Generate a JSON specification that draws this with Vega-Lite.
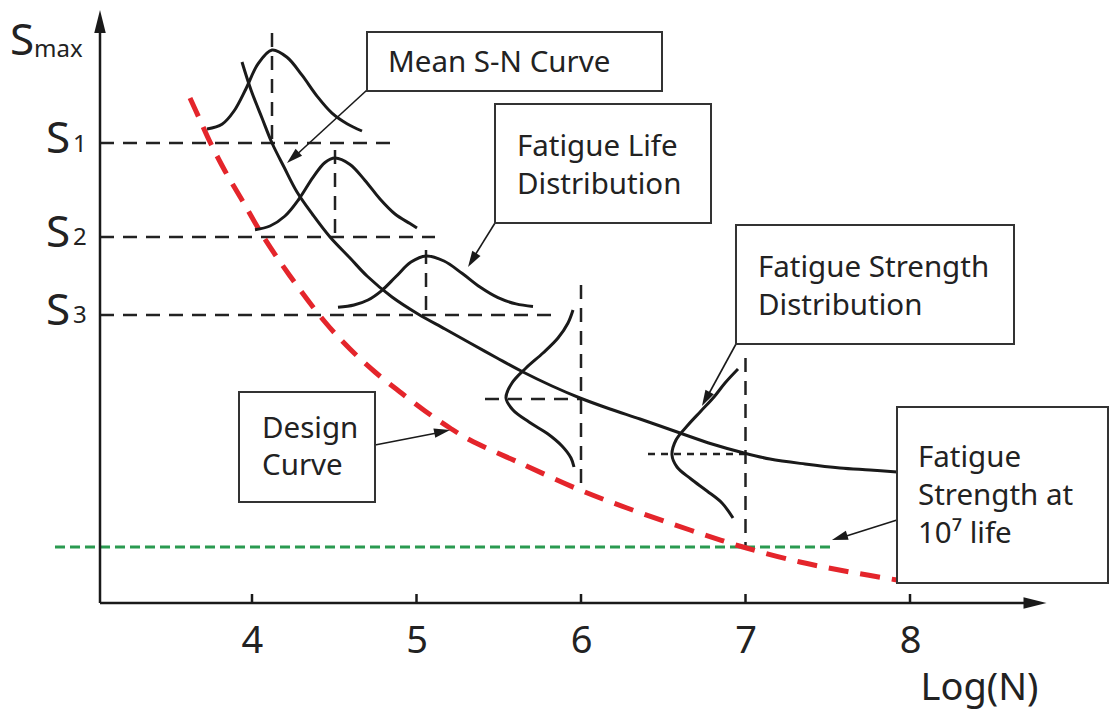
{
  "$schema": "https://vega.github.io/schema/vega-lite/v6.json",
  "width": 1109,
  "height": 713,
  "autosize": {"type": "none"},
  "padding": 0,
  "background": "white",
  "config": {"view": {"stroke": null}},
  "datasets": {
    "dash": [
      {"n": 3.076, "n2": 4.8693, "s": 460, "s2": 460},
      {"n": 3.076, "n2": 5.1125, "s": 366, "s2": 366},
      {"n": 3.076, "n2": 5.8541, "s": 288, "s2": 288},
      {"n": 4.1216, "n2": 4.1216, "s": 570, "s2": 460},
      {"n": 4.5046, "n2": 4.5046, "s": 453, "s2": 366},
      {"n": 5.0578, "n2": 5.0578, "s": 353, "s2": 288},
      {"n": 6, "n2": 6, "s": 318, "s2": 113},
      {"n": 7, "n2": 7, "s": 245, "s2": 56},
      {"n": 5.4164, "n2": 6, "s": 204, "s2": 204}
    ],
    "fine": [{"n": 6.4073, "n2": 7, "s": 149, "s2": 149}],
    "green": [{"n": 2.8024, "n2": 7.5137, "s": 56, "s2": 56}],
    "design": [
      {"i": 0, "n": 3.6231, "s": 505}, {"i": 1, "n": 3.6839, "s": 483}, {"i": 2, "n": 3.7447, "s": 461},
      {"i": 3, "n": 3.8359, "s": 432}, {"i": 4, "n": 3.9392, "s": 403}, {"i": 5, "n": 4.0669, "s": 367},
      {"i": 6, "n": 4.231, "s": 327}, {"i": 7, "n": 4.4438, "s": 281}, {"i": 8, "n": 4.5958, "s": 254},
      {"i": 9, "n": 4.7477, "s": 231}, {"i": 10, "n": 4.8997, "s": 211}, {"i": 11, "n": 5.0517, "s": 192},
      {"i": 12, "n": 5.2036, "s": 175}, {"i": 13, "n": 5.3252, "s": 163}, {"i": 14, "n": 5.6292, "s": 140},
      {"i": 15, "n": 5.9939, "s": 113}, {"i": 16, "n": 6.2796, "s": 95}, {"i": 17, "n": 6.6626, "s": 73},
      {"i": 18, "n": 6.9848, "s": 56}, {"i": 19, "n": 7.3313, "s": 41}, {"i": 20, "n": 7.6353, "s": 31},
      {"i": 21, "n": 7.921, "s": 23}
    ],
    "curves": [
      {"id": "sn", "i": 0, "n": 3.9392, "s": 541}, {"id": "sn", "i": 1, "n": 3.9939, "s": 513},
      {"id": "sn", "i": 2, "n": 4.0608, "s": 485}, {"id": "sn", "i": 3, "n": 4.1216, "s": 460},
      {"id": "sn", "i": 4, "n": 4.1945, "s": 436}, {"id": "sn", "i": 5, "n": 4.2736, "s": 411},
      {"id": "sn", "i": 6, "n": 4.3708, "s": 388}, {"id": "sn", "i": 7, "n": 4.4742, "s": 366},
      {"id": "sn", "i": 8, "n": 4.5958, "s": 345}, {"id": "sn", "i": 9, "n": 4.6991, "s": 327},
      {"id": "sn", "i": 10, "n": 4.8511, "s": 306}, {"id": "sn", "i": 11, "n": 5.0091, "s": 289},
      {"id": "sn", "i": 12, "n": 5.1733, "s": 274}, {"id": "sn", "i": 13, "n": 5.3252, "s": 260},
      {"id": "sn", "i": 14, "n": 5.4894, "s": 245}, {"id": "sn", "i": 15, "n": 5.6474, "s": 231},
      {"id": "sn", "i": 16, "n": 5.8237, "s": 217}, {"id": "sn", "i": 17, "n": 5.9939, "s": 205},
      {"id": "sn", "i": 18, "n": 6.1763, "s": 194}, {"id": "sn", "i": 19, "n": 6.3587, "s": 184},
      {"id": "sn", "i": 20, "n": 6.6018, "s": 170}, {"id": "sn", "i": 21, "n": 6.7964, "s": 159},
      {"id": "sn", "i": 22, "n": 6.9909, "s": 150}, {"id": "sn", "i": 23, "n": 7.1489, "s": 144},
      {"id": "sn", "i": 24, "n": 7.3617, "s": 139}, {"id": "sn", "i": 25, "n": 7.5745, "s": 135},
      {"id": "sn", "i": 26, "n": 7.7568, "s": 133}, {"id": "sn", "i": 27, "n": 7.921, "s": 131},

      {"id": "b1", "i": 0, "n": 3.7265, "s": 474}, {"id": "b1", "i": 1, "n": 3.8176, "s": 478.7},
      {"id": "b1", "i": 2, "n": 3.8906, "s": 492}, {"id": "b1", "i": 3, "n": 3.9635, "s": 514.3},
      {"id": "b1", "i": 4, "n": 4.0365, "s": 539.1}, {"id": "b1", "i": 5, "n": 4.1216, "s": 553},
      {"id": "b1", "i": 6, "n": 4.2128, "s": 545.8}, {"id": "b1", "i": 7, "n": 4.304, "s": 527.8},
      {"id": "b1", "i": 8, "n": 4.3951, "s": 506.9}, {"id": "b1", "i": 9, "n": 4.4863, "s": 489.9},
      {"id": "b1", "i": 10, "n": 4.5775, "s": 479.3}, {"id": "b1", "i": 11, "n": 4.6687, "s": 472},

      {"id": "b2", "i": 0, "n": 4.0182, "s": 373.2}, {"id": "b2", "i": 1, "n": 4.1094, "s": 377},
      {"id": "b2", "i": 2, "n": 4.2006, "s": 387}, {"id": "b2", "i": 3, "n": 4.2857, "s": 404},
      {"id": "b2", "i": 4, "n": 4.3708, "s": 425.6}, {"id": "b2", "i": 5, "n": 4.4438, "s": 440.5},
      {"id": "b2", "i": 6, "n": 4.5046, "s": 445}, {"id": "b2", "i": 7, "n": 4.5958, "s": 438.6},
      {"id": "b2", "i": 8, "n": 4.6869, "s": 422.6}, {"id": "b2", "i": 9, "n": 4.7781, "s": 404},
      {"id": "b2", "i": 10, "n": 4.8693, "s": 389}, {"id": "b2", "i": 11, "n": 4.9605, "s": 379.4},
      {"id": "b2", "i": 12, "n": 5.003, "s": 375},

      {"id": "b3", "i": 0, "n": 4.5228, "s": 295.7}, {"id": "b3", "i": 1, "n": 4.6201, "s": 298},
      {"id": "b3", "i": 2, "n": 4.7052, "s": 303}, {"id": "b3", "i": 3, "n": 4.7903, "s": 312.7},
      {"id": "b3", "i": 4, "n": 4.8754, "s": 326.5}, {"id": "b3", "i": 5, "n": 4.9666, "s": 340.9},
      {"id": "b3", "i": 6, "n": 5.0578, "s": 347}, {"id": "b3", "i": 7, "n": 5.1672, "s": 342},
      {"id": "b3", "i": 8, "n": 5.2766, "s": 329.7}, {"id": "b3", "i": 9, "n": 5.386, "s": 315.9},
      {"id": "b3", "i": 10, "n": 5.4954, "s": 305.3}, {"id": "b3", "i": 11, "n": 5.6049, "s": 299.1},
      {"id": "b3", "i": 12, "n": 5.7082, "s": 296.5},

      {"id": "f6", "i": 0, "n": 5.9514, "s": 293}, {"id": "f6", "i": 1, "n": 5.921, "s": 280},
      {"id": "f6", "i": 2, "n": 5.8602, "s": 265}, {"id": "f6", "i": 3, "n": 5.769, "s": 250},
      {"id": "f6", "i": 4, "n": 5.6657, "s": 235}, {"id": "f6", "i": 5, "n": 5.5805, "s": 220},
      {"id": "f6", "i": 6, "n": 5.5441, "s": 205}, {"id": "f6", "i": 7, "n": 5.5866, "s": 193},
      {"id": "f6", "i": 8, "n": 5.6839, "s": 181}, {"id": "f6", "i": 9, "n": 5.7994, "s": 169},
      {"id": "f6", "i": 10, "n": 5.8845, "s": 157}, {"id": "f6", "i": 11, "n": 5.9392, "s": 145},
      {"id": "f6", "i": 12, "n": 5.9574, "s": 136},

      {"id": "f7", "i": 0, "n": 6.9544, "s": 234}, {"id": "f7", "i": 1, "n": 6.8754, "s": 220},
      {"id": "f7", "i": 2, "n": 6.8085, "s": 206}, {"id": "f7", "i": 3, "n": 6.7295, "s": 192},
      {"id": "f7", "i": 4, "n": 6.6505, "s": 178}, {"id": "f7", "i": 5, "n": 6.5775, "s": 163},
      {"id": "f7", "i": 6, "n": 6.5532, "s": 148}, {"id": "f7", "i": 7, "n": 6.5836, "s": 136},
      {"id": "f7", "i": 8, "n": 6.6687, "s": 124}, {"id": "f7", "i": 9, "n": 6.766, "s": 112},
      {"id": "f7", "i": 10, "n": 6.8571, "s": 100}, {"id": "f7", "i": 11, "n": 6.924, "s": 85}
    ],
    "axes": [
      {"n": 3.076, "n2": 3.076, "s": 0, "s2": 575},
      {"n": 3.076, "n2": 8.7, "s": 0, "s2": 0},
      {"n": 4, "n2": 4, "s": 0, "s2": 9},
      {"n": 5, "n2": 5, "s": 0, "s2": 9},
      {"n": 6, "n2": 6, "s": 0, "s2": 9},
      {"n": 7, "n2": 7, "s": 0, "s2": 9},
      {"n": 8, "n2": 8, "s": 0, "s2": 9}
    ],
    "shafts": [
      {"n": 4.6991, "n2": 4.2492, "s": 513, "s2": 445},
      {"n": 5.4772, "n2": 5.3374, "s": 380, "s2": 343},
      {"n": 6.9422, "n2": 6.7599, "s": 259, "s2": 204},
      {"n": 4.7477, "n2": 5.155, "s": 158, "s2": 171},
      {"n": 7.921, "n2": 7.5745, "s": 83, "s2": 65}
    ],
    "heads": [
      {"n": 4.2487, "s": 445.4, "ang": 227.6},
      {"n": 5.3386, "s": 342.8, "ang": 211.5},
      {"n": 6.7587, "s": 204, "ang": 208.7},
      {"n": 5.1562, "s": 171.4, "ang": 78.7},
      {"n": 7.572, "s": 65.4, "ang": 253}
    ],
    "axheads": [
      {"n": 3.076, "s": 581.5, "ang": 0},
      {"n": 8.7599, "s": 0, "ang": 90}
    ],
    "boxes": [
      {"n": 4.6991, "n2": 6.4924, "s": 571, "s2": 512},
      {"n": 5.4772, "n2": 6.7903, "s": 499, "s2": 380},
      {"n": 6.9422, "n2": 8.6322, "s": 378, "s2": 259},
      {"n": 3.921, "n2": 4.7477, "s": 211, "s2": 101},
      {"n": 7.921, "n2": 9.2036, "s": 196, "s2": 20}
    ],
    "boxtext": [
      {"t": "Mean S-N Curve", "n": 4.8268, "s": 531},
      {"t": "Fatigue Life", "n": 5.6109, "s": 447},
      {"t": "Distribution", "n": 5.6109, "s": 409},
      {"t": "Fatigue Strength", "n": 7.076, "s": 326},
      {"t": "Distribution", "n": 7.076, "s": 288},
      {"t": "Fatigue", "n": 8.0486, "s": 136},
      {"t": "Strength at", "n": 8.0486, "s": 98},
      {"t": "10⁷ life", "n": 8.0486, "s": 60},
      {"t": "Design", "n": 4.0608, "s": 165},
      {"t": "Curve", "n": 4.0608, "s": 128}
    ],
    "bigS": [
      {"t": "S", "n": 2.5289, "s": 548},
      {"t": "S", "n": 2.7477, "s": 450},
      {"t": "S", "n": 2.7477, "s": 356},
      {"t": "S", "n": 2.7477, "s": 278}
    ],
    "sub": [
      {"t": "max", "n": 2.6748, "s": 546},
      {"t": "1", "n": 2.9119, "s": 451},
      {"t": "2", "n": 2.9119, "s": 358},
      {"t": "3", "n": 2.9119, "s": 280}
    ]
  },
  "encoding": {
    "x": {
      "field": "n", "type": "quantitative",
      "scale": {"domain": [2.4681, 9.2097], "nice": false, "zero": false},
      "axis": {
        "values": [4, 5, 6, 7, 8], "grid": false, "domain": false, "ticks": false, "tickSize": 0,
        "offset": -110, "labelFont": "Noto Sans", "labelFontSize": 38, "labelColor": "#222",
        "labelBaseline": "alphabetic", "labelPadding": 49, "labelFlush": false, "labelOverlap": false,
        "title": "Log(N)", "titleFont": "Noto Sans", "titleFontSize": 38, "titleFontWeight": "normal",
        "titleColor": "#222", "titleX": 920, "titleY": 96, "titleAlign": "left", "titleBaseline": "alphabetic"
      }
    },
    "y": {
      "field": "s", "type": "quantitative",
      "scale": {"domain": [-110, 603], "nice": false, "zero": false},
      "axis": null
    }
  },
  "layer": [
    {
      "data": {"name": "dash"},
      "mark": {"type": "rule", "color": "#222", "strokeWidth": 2.5, "strokeDash": [14, 9]},
      "encoding": {"x2": {"field": "n2"}, "y2": {"field": "s2"}}
    },
    {
      "data": {"name": "fine"},
      "mark": {"type": "rule", "color": "#222", "strokeWidth": 2.5, "strokeDash": [7, 6]},
      "encoding": {"x2": {"field": "n2"}, "y2": {"field": "s2"}}
    },
    {
      "data": {"name": "green"},
      "mark": {"type": "rule", "color": "#2a9a50", "strokeWidth": 3, "strokeDash": [10, 5]},
      "encoding": {"x2": {"field": "n2"}, "y2": {"field": "s2"}}
    },
    {
      "data": {"name": "design"},
      "mark": {"type": "line", "color": "#e4252b", "strokeWidth": 5, "strokeDash": [20, 12], "interpolate": "catmull-rom"},
      "encoding": {"order": {"field": "i", "type": "quantitative"}}
    },
    {
      "data": {"name": "curves"},
      "mark": {"type": "line", "color": "#1a1a1a", "strokeWidth": 3, "interpolate": "catmull-rom"},
      "encoding": {"detail": {"field": "id", "type": "nominal"}, "order": {"field": "i", "type": "quantitative"}}
    },
    {
      "data": {"name": "axes"},
      "mark": {"type": "rule", "color": "#1a1a1a", "strokeWidth": 2.5},
      "encoding": {"x2": {"field": "n2"}, "y2": {"field": "s2"}}
    },
    {
      "data": {"name": "shafts"},
      "mark": {"type": "rule", "color": "#1a1a1a", "strokeWidth": 1.6},
      "encoding": {"x2": {"field": "n2"}, "y2": {"field": "s2"}}
    },
    {
      "data": {"name": "heads"},
      "mark": {"type": "point", "shape": "M0,-1L0.6,1L-0.6,1Z", "filled": true, "color": "#1a1a1a", "opacity": 1, "size": 256, "strokeWidth": 0},
      "encoding": {"angle": {"field": "ang", "type": "quantitative", "scale": null}}
    },
    {
      "data": {"name": "axheads"},
      "mark": {"type": "point", "shape": "M0,-1L0.5,1L-0.5,1Z", "filled": true, "color": "#1a1a1a", "opacity": 1, "size": 529, "strokeWidth": 0},
      "encoding": {"angle": {"field": "ang", "type": "quantitative", "scale": null}}
    },
    {
      "data": {"name": "boxes"},
      "mark": {"type": "rect", "fill": "white", "stroke": "#333", "strokeWidth": 2},
      "encoding": {"x2": {"field": "n2"}, "y2": {"field": "s2"}}
    },
    {
      "data": {"name": "boxtext"},
      "mark": {"type": "text", "font": "Noto Sans", "fontSize": 29.5, "color": "#222", "align": "left", "baseline": "alphabetic"},
      "encoding": {"text": {"field": "t"}}
    },
    {
      "data": {"name": "bigS"},
      "mark": {"type": "text", "font": "Noto Sans", "fontSize": 44, "color": "#222", "align": "left", "baseline": "alphabetic"},
      "encoding": {"text": {"field": "t"}}
    },
    {
      "data": {"name": "sub"},
      "mark": {"type": "text", "font": "Noto Sans", "fontSize": 24, "color": "#222", "align": "left", "baseline": "alphabetic"},
      "encoding": {"text": {"field": "t"}}
    }
  ]
}
